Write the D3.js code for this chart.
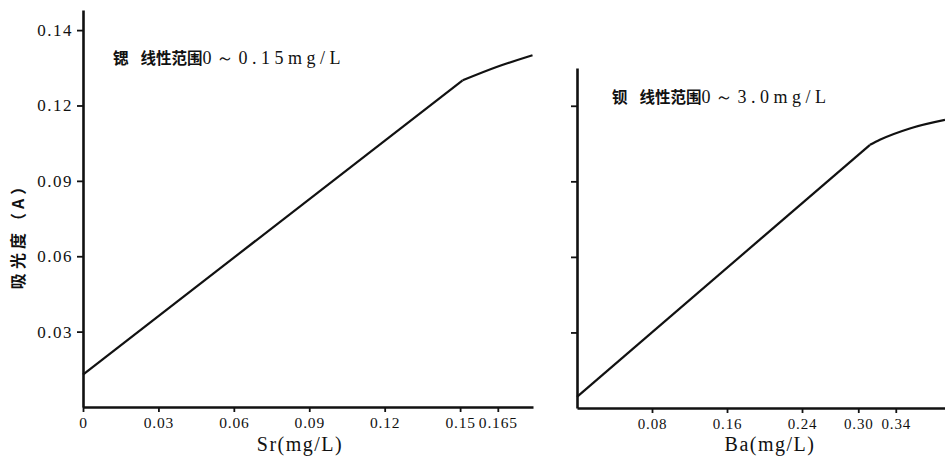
<!DOCTYPE html>
<html lang="zh">
<head>
<meta charset="UTF-8">
<title>锶 钡 标准曲线</title>
<script src="https://d3js.org/d3.v7.min.js"></script>
<style>
  body { margin: 0; background: #fff; }
  svg text { fill: #111; }
</style>
</head>
<body>
<div class="chart"></div>
<script>
// Sr panel: straight part + bend
const srLineX = [0, 0.151];
const srLineY = [0.0129, 0.130];
const srBendX = [0.151, 0.1645, 0.1788];
const srBendY = [0.130, 0.1353, 0.140];
const srXTicks = [0, 0.03, 0.06, 0.09, 0.12, 0.15, 0.165];
const srXLabels = ["0", "0.03", "0.06", "0.09", "0.12", "0.15", "0.165"];
const yTicks = [0.03, 0.06, 0.09, 0.12, 0.15];
const yLabels = ["0.03", "0.06", "0.09", "0.12", "0.14"];

// Ba panel
const baLineX = [0, 0.3125];
const baLineY = [0.0044, 0.1045];
const baBendX = [0.3125, 0.323, 0.355, 0.3925];
const baBendY = [0.1045, 0.1065, 0.111, 0.1144];
const baXTicks = [0.08, 0.16, 0.24, 0.30, 0.34];
const baXLabels = ["0.08", "0.16", "0.24", "0.30", "0.34"];
const baYTicks = [0.03, 0.06, 0.09, 0.12];

const SERIF = "'Liberation Serif', 'DejaVu Serif', serif";
const CJK = "'Noto Sans CJK SC', sans-serif";

const width = 945, height = 466;
const svg = d3.select(".chart").append("svg")
  .attr("width", width)
  .attr("height", height);

function zip(xs, ys) { return xs.map((x, i) => [x, ys[i]]); }

function drawPanel(opt) {
  const x = d3.scaleLinear().domain(opt.xDomain).range(opt.xRange);
  const y = d3.scaleLinear().domain(opt.yDomain).range(opt.yRange);
  const g = svg.append("g");

  const yAxis = d3.axisLeft(y)
    .tickValues(opt.yTicks)
    .tickSize(6)
    .tickSizeOuter(0)
    .tickPadding(4)
    .tickFormat((d, i) => opt.yLabels ? opt.yLabels[i] : "");
  const ya = g.append("g")
    .attr("transform", `translate(${opt.xRange[0]},0)`)
    .call(yAxis);

  const xAxis = d3.axisBottom(x)
    .tickValues(opt.xTicks)
    .tickSize(5)
    .tickSizeOuter(0)
    .tickPadding(5)
    .tickFormat((d, i) => opt.xLabels[i]);
  const xa = g.append("g")
    .attr("transform", `translate(0,${opt.yRange[0]})`)
    .call(xAxis);

  [ya, xa].forEach(a => {
    a.attr("font-family", SERIF);
    a.select(".domain").attr("stroke", "#111").attr("stroke-width", 2.6);
    a.selectAll(".tick line").attr("stroke", "#111").attr("stroke-width", 1.8);
  });
  ya.selectAll(".tick text")
    .attr("font-family", SERIF)
    .attr("font-size", 17).attr("letter-spacing", 1.5).attr("fill", "#111");
  xa.selectAll(".tick text")
    .attr("font-family", SERIF)
    .attr("font-size", opt.xFont).attr("letter-spacing", 0.8).attr("fill", "#111");

  const line = d3.line().x(d => x(d[0])).y(d => y(d[1]));
  g.append("path")
    .datum(zip(opt.lineX, opt.lineY))
    .attr("d", line)
    .attr("fill", "none").attr("stroke", "#111").attr("stroke-width", 2.2);
  g.append("path")
    .datum(zip(opt.bendX, opt.bendY))
    .attr("d", line.curve(d3.curveMonotoneX))
    .attr("fill", "none").attr("stroke", "#111").attr("stroke-width", 2.2);

  // axis title
  g.append("text")
    .attr("x", opt.xTitleX).attr("y", 451)
    .attr("text-anchor", "middle")
    .attr("font-family", SERIF)
    .attr("font-size", 20)
    .attr("letter-spacing", 1.5)
    .text(opt.xTitle);

  // panel title
  const t = g.append("text")
    .attr("x", opt.titleX).attr("y", opt.titleY)
    .attr("font-size", 15.5);
  t.append("tspan").attr("font-family", CJK).attr("font-weight", 700).text(opt.elem);
  t.append("tspan").attr("font-family", CJK).attr("font-weight", 700)
    .attr("dx", 12).text("线性范围");
  t.append("tspan").attr("font-family", SERIF)
    .attr("font-size", 18).attr("letter-spacing", 4.5).text(opt.range);
}

drawPanel({
  xDomain: [0, 0.179], xRange: [83, 533],
  yDomain: [0, 0.158], yRange: [407, 10],
  yTicks: yTicks, yLabels: yLabels,
  xTicks: srXTicks, xLabels: srXLabels, xFont: 15.5,
  lineX: srLineX, lineY: srLineY, bendX: srBendX, bendY: srBendY,
  xTitle: "Sr(mg/L)", xTitleX: 300,
  elem: "锶", range: "0～0.15mg/L", titleX: 113, titleY: 64
});

drawPanel({
  xDomain: [0, 0.3925], xRange: [577, 945],
  yDomain: [0, 0.135], yRange: [408, 68],
  yTicks: baYTicks, yLabels: null,
  xTicks: baXTicks, xLabels: baXLabels, xFont: 15,
  lineX: baLineX, lineY: baLineY, bendX: baBendX, bendY: baBendY,
  xTitle: "Ba(mg/L)", xTitleX: 770,
  elem: "钡", range: "0～3.0mg/L", titleX: 612, titleY: 103
});

// y axis title
svg.append("text")
  .attr("transform", "translate(24,232) rotate(-90)")
  .attr("text-anchor", "middle")
  .attr("font-family", CJK)
  .attr("font-weight", 700)
  .attr("font-size", 16)
  .attr("letter-spacing", 4)
  .text("吸光度（A）");
</script>
</body>
</html>
